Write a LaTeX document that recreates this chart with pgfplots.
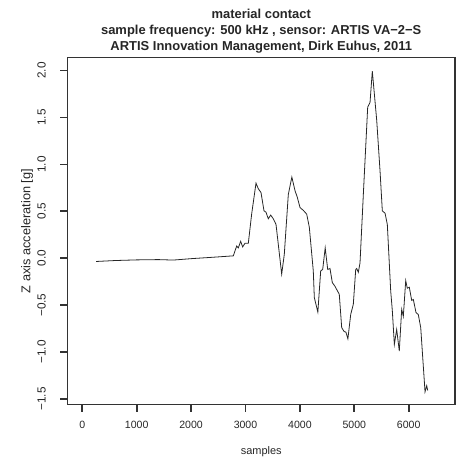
\documentclass[border=0pt]{standalone}
\usepackage{pgfplots}
\pgfplotsset{compat=1.18}
\usepackage{fontspec}
\setmainfont{Liberation Sans}
\begin{document}
\begin{tikzpicture}
\useasboundingbox (0,0) rectangle (458bp,459bp);
\begin{axis}[
  at={(67.5bp,54.5bp)}, anchor=south west,
  scale only axis, width=387.5bp, height=347bp,
  xmin=-272, xmax=6851, ymin=-1.56, ymax=2.14,
  axis line style={draw=black!80, line width=1.7bp},
  tick align=outside, tick pos=left, major tick length=7bp,
  every tick/.style={draw=black!80, line width=1.7bp},
  xtick={0,1000,2000,3000,4000,5000,6000},
  xticklabels={0,1000,2000,3000,4000,5000,6000},
  ytick={-1.5,-1,-0.5,0,0.5,1,1.5,2},
  yticklabels={−1.5,−1.0,−0.5,0.0,0.5,1.0,1.5,2.0},
  xticklabel style={font=\fontsize{10.6}{12}\selectfont, text=black!85, at={(xticklabel cs:0)}, anchor=center, yshift=-13.5bp},
  yticklabel style={font=\fontsize{11.8}{13}\selectfont, text=black!85, at={(yticklabel cs:0)}, xshift=-18.8bp, rotate=90, anchor=center},
  xlabel={samples},
  ylabel={Z axis acceleration [g]},
  xlabel style={font=\fontsize{11}{12}\selectfont, text=black!85, at={(axis description cs:0.5,-0.136)}, anchor=center},
  ylabel style={font=\fontsize{12.8}{14}\selectfont, text=black!85, at={(axis description cs:-0.1045,0.5)}, anchor=center},
  title={material contact\\sample frequency: 500 kHz , sensor: ARTIS VA−2−S\\ARTIS Innovation Management, Dirk Euhus, 2011},
  title style={at={(axis description cs:0.5,1)}, anchor=south, align=center, inner sep=0pt, yshift=-2bp,
    font=\bfseries\fontsize{13}{16.3}\selectfont, text=black!85},
]
\addplot[black!85, line width=0.8pt] coordinates {
(254,-0.035) (600,-0.025) (1000,-0.018) (1400,-0.015) (1673,-0.02) (2000,-0.005) (2400,0.01) (2776,0.025)
(2838,0.13) (2868,0.11) (2911,0.18) (2948,0.12) (2991,0.16) (3052,0.16) (3113,0.47) (3193,0.80)
(3236,0.74) (3285,0.70) (3340,0.505) (3377,0.49) (3419,0.42) (3463,0.46) (3511,0.42) (3561,0.36)
(3616,0.08) (3665,-0.17) (3713,0.04) (3787,0.68) (3852,0.865) (3910,0.72) (3952,0.65) (4002,0.54)
(4063,0.51) (4125,0.47) (4173,0.33) (4246,-0.135) (4265,-0.42) (4330,-0.575) (4382,-0.135) (4419,-0.12)
(4465,0.11) (4511,-0.12) (4553,-0.11) (4596,-0.26) (4645,-0.30) (4724,-0.385) (4768,-0.74) (4811,-0.78)
(4847,-0.79) (4882,-0.86) (4934,-0.60) (4982,-0.49) (5026,-0.12) (5044,-0.11) (5074,-0.15) (5105,-0.05)
(5166,0.68) (5246,1.61) (5289,1.66) (5331,1.995) (5412,1.47) (5473,0.93) (5515,0.505) (5565,0.48)
(5607,0.36) (5669,-0.35) (5699,-0.56) (5736,-0.92) (5779,-0.76) (5827,-0.99) (5871,-0.545) (5901,-0.62)
(5945,-0.24) (5974,-0.32) (6011,-0.31) (6055,-0.45) (6085,-0.44) (6134,-0.58) (6176,-0.60) (6221,-0.74)
(6300,-1.425) (6331,-1.36) (6349,-1.41)
};
\end{axis}
\draw[black!80, line width=1.7bp] (67.5bp,54.5bp) rectangle (455bp,401.5bp);
\end{tikzpicture}
\end{document}
